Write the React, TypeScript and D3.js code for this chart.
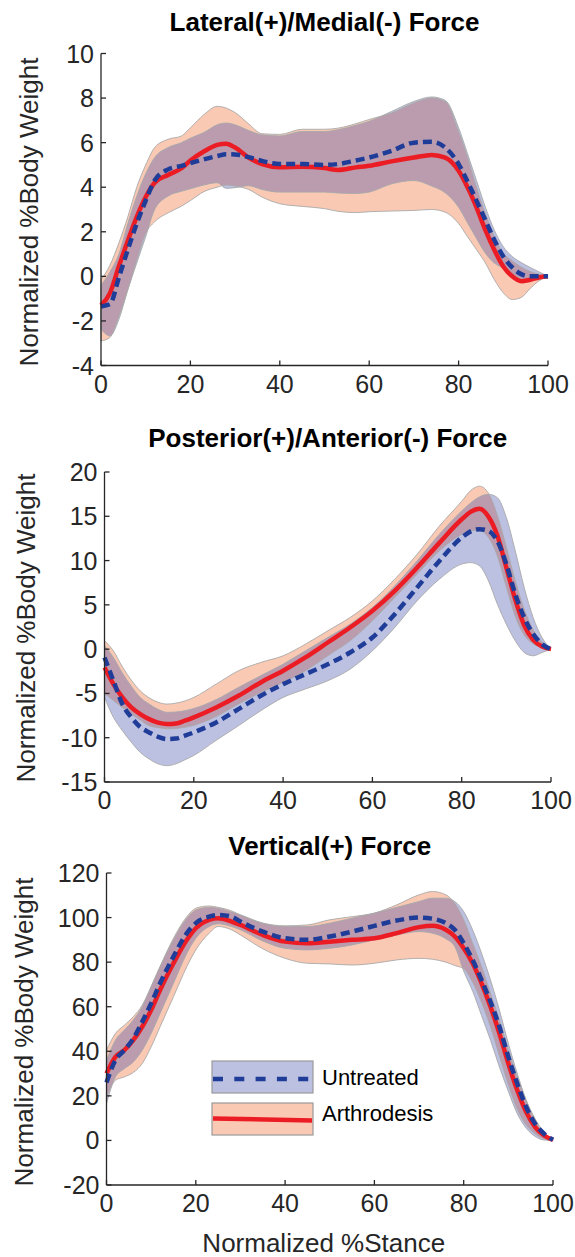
import React from 'react';
import * as d3 from 'd3';

// ---------- Chart 1: Lateral(+)/Medial(-) ----------
const latX = [0,2,4,6,8,10,12,15,18,20,23,26,28,30,33,36,40,45,50,53,57,60,65,70,74,77,80,82,84,86,88,90,92,94,96,98,100];
const latArthMean = [-1.3,-0.75,0.45,1.6,2.67,3.56,4.2,4.55,4.85,5.2,5.6,5.9,5.95,5.78,5.33,5.04,4.9,4.92,4.86,4.77,4.89,4.96,5.16,5.33,5.45,5.33,4.74,4.0,3.1,2.07,1.18,0.44,0.0,-0.22,-0.15,-0.05,0];
const latUntrMean = [-1.35,-1.25,-0.05,1.2,2.37,3.4,4.3,4.8,4.96,5.08,5.25,5.4,5.48,5.47,5.35,5.18,5.04,5.04,5.0,5.04,5.2,5.33,5.63,6.0,6.04,5.78,5.04,4.25,3.4,2.52,1.63,0.89,0.4,0.1,0.0,0,0];
const latArthUp = [-0.15,0.5,1.5,2.67,4.0,5.0,5.78,6.15,6.3,6.67,7.25,7.63,7.55,7.35,6.85,6.4,6.37,6.6,6.6,6.65,6.85,7.04,7.33,7.78,8.0,7.85,6.5,5.33,4.0,2.8,1.78,1.04,0.7,0.42,0.22,0.1,0];
const latArthLo = [-2.9,-2.74,-1.8,-0.6,0.74,1.93,2.45,2.85,3.15,3.4,3.8,4.0,4.1,4.05,3.9,3.56,3.26,3.14,3.04,2.92,2.86,2.9,2.93,2.96,3.0,2.88,2.37,1.78,1.2,0.6,-0.15,-0.74,-1.04,-0.95,-0.55,-0.2,0];
const latUntrUp = [-0.4,0.2,1.0,2.37,3.6,4.6,5.33,5.78,6.0,6.2,6.45,6.8,6.88,6.8,6.55,6.35,6.3,6.5,6.5,6.58,6.78,6.96,7.4,7.85,8.05,7.9,6.67,5.5,4.3,3.1,2.07,1.33,0.89,0.62,0.4,0.2,0];
const latUntrLo = [-2.37,-2.67,-1.93,-0.6,0.6,1.78,3.0,3.6,3.82,3.93,4.1,4.2,3.95,3.98,4.07,3.9,3.78,3.78,3.78,3.74,3.72,3.78,4.15,4.3,4.05,3.75,3.1,2.4,1.7,1.04,0.6,0.37,0.12,-0.12,-0.2,-0.1,0];
const latTicks = [-4,-2,0,2,4,6,8,10];

// ---------- Chart 2: Posterior(+)/Anterior(-) ----------
const apX = [0,2,4,6,8,10,12,14,16,18,20,25,30,35,40,45,50,55,60,65,70,75,80,82,84,86,88,90,92,94,96,98,100];
const apArthMean = [-2.07,-3.95,-5.45,-6.58,-7.33,-7.9,-8.3,-8.46,-8.4,-8.08,-7.7,-6.58,-5.26,-3.76,-2.44,-0.94,0.75,2.44,4.32,6.58,9.2,12.0,14.66,15.5,15.85,14.95,12.8,9.2,5.6,2.7,1.05,0.3,0];
const apUntrMean = [-0.94,-3.57,-6.2,-7.7,-8.8,-9.4,-9.9,-10.15,-10.1,-9.77,-9.4,-8.27,-6.77,-5.26,-3.95,-2.82,-1.7,-0.38,1.32,3.95,6.95,9.96,12.6,13.3,13.55,13.35,12.2,9.6,6.2,3.57,1.7,0.56,0];
const apArthUp = [0.94,-0.2,-2.0,-3.5,-4.7,-5.5,-6.0,-6.2,-6.1,-5.85,-5.45,-3.95,-2.44,-1.5,-0.75,0.56,2.07,3.57,5.45,7.9,10.7,13.9,16.7,17.9,18.4,17.6,15.1,11.5,7.7,4.5,2.2,0.8,0];
const apArthLo = [-5.0,-5.8,-6.6,-7.33,-8.0,-8.65,-8.85,-9.0,-8.95,-8.83,-8.6,-7.6,-6.2,-4.9,-3.76,-2.44,-0.75,0.94,3.2,5.83,8.46,11.1,12.97,13.4,13.4,12.6,10.5,7.0,3.7,1.6,0.6,0.2,0];
const apUntrUp = [0.38,-0.94,-2.7,-4.2,-5.45,-6.2,-6.8,-7.14,-7.1,-6.95,-6.7,-5.7,-4.32,-3.0,-1.7,-0.19,1.32,2.82,4.7,7.14,9.96,12.97,15.6,16.5,17.2,17.48,17.1,14.85,11.1,6.95,3.57,1.3,0];
const apUntrLo = [-5.45,-7.7,-9.2,-10.5,-11.65,-12.4,-12.95,-13.16,-12.95,-12.5,-12.0,-10.3,-8.65,-6.95,-5.45,-4.5,-3.57,-2.26,-0.19,2.44,5.45,7.9,9.6,9.77,9.4,7.7,5.07,2.82,0.94,-0.38,-0.75,-0.38,0];
const apTicks = [-15,-10,-5,0,5,10,15,20];

// ---------- Chart 3: Vertical(+) ----------
const vX = [0,2,4,6,8,10,12,15,18,20,23,25,28,30,35,40,45,50,55,60,65,70,73,76,78,80,82,84,86,88,90,92,94,96,98,100];
const vArthMean = [30,37.5,40.5,45,51,58.5,67.5,79.5,90,95.2,99,99.7,98.2,96.7,92.2,89.2,88.5,89.2,90,90.7,93,95.7,96.3,94.5,91.5,86.2,79.5,70.5,60,48,34.5,22.5,12.7,6,2.2,0.3];
const vUntrMean = [26,36,40.5,45.7,53.2,61.5,70.5,82.5,93,97.5,100.4,101.2,100.4,98.2,93.7,90.7,90,91.5,93.7,96.3,98.7,100,99.5,97.5,94.5,88.5,81,72,62.2,51,37.5,25.5,15,7.5,3,0.3];
const vArthUp = [40.5,48,51.7,55.5,60.7,69,78,90.7,100.4,104.2,105.2,104.6,103,101.2,97.5,96.3,96.7,99,100.4,102,105.7,110.2,111.7,110.2,106.4,99,88.5,78,66,54,40.5,28.5,18,9.7,3.7,0.5];
const vArthLo = [19.5,27,28.5,30.5,34.5,42,51,64.5,78,85.5,93,96,94.5,92.2,86,81.7,79.5,79.2,78.7,79.5,81,81.7,81.3,80,78.5,77,71,62,51,38,25,14,7,3,0.7,0];
const vUntrUp = [36,45,49.5,54,60,69,78,90,99.7,103.4,104.6,104.2,102.5,101.2,97.5,96,96,97.5,99.7,102,104.6,107.2,108.7,108.7,107.2,102.7,94.5,84,72,58.5,43.5,30,18,9,3,0.5];
const vUntrLo = [16.5,28.5,32.2,35.2,40.5,48,57,70.5,84,90.7,96,97.2,96,94.5,89.5,86.2,85.5,86.2,87.7,90,92.2,93.7,93,90.5,87,76,67,56,45,33,22,12,5.5,1.8,0.2,0];
const vTicks = [-20,0,20,40,60,80,100,120];

const xTicks = [0,20,40,60,80,100];
const seriesNames = ['Untreated', 'Arthrodesis'];

const COL = {
  arthBand: '#f9c9b3',
  untrBand: '#bcc0e1',
  overlap: '#bb9bae',
  edge: '#a9a9a9',
  red: '#ec1c24',
  blue: '#1f3d98',
  axis: '#262626',
};
const FONT = '"Liberation Sans", Arial, Helvetica, sans-serif';

type ChartProps = {
  id: string;
  title: string;
  x: number[];
  arthMean: number[]; untrMean: number[];
  arthUp: number[]; arthLo: number[];
  untrUp: number[]; untrLo: number[];
  ticks: number[];
  left: number; right: number; top: number; bottom: number;
  titleY: number;
  ylabX: number; ylabY: number;
  xlabel?: boolean;
  legend?: boolean;
};

function Chart(p: ChartProps) {
  const xs = d3.scaleLinear().domain([0, 100]).range([p.left, p.right]);
  const ys = d3.scaleLinear().domain([p.ticks[0], p.ticks[p.ticks.length - 1]]).range([p.bottom, p.top]);
  const idx = p.x.map((_, i) => i);
  const area = (lo: number[], up: number[]) =>
    d3.area<number>().x(i => xs(p.x[i])).y0(i => ys(lo[i])).y1(i => ys(up[i])).curve(d3.curveMonotoneX)(idx) || '';
  const line = (v: number[]) =>
    d3.line<number>().x(i => xs(p.x[i])).y(i => ys(v[i])).curve(d3.curveMonotoneX)(idx) || '';
  const aArea = area(p.arthLo, p.arthUp);
  const uArea = area(p.untrLo, p.untrUp);
  const cx = (p.left + p.right) / 2;

  const lgX = p.left + 105.5;
  const lgY = p.top + 188;
  const lgW = 101, lgH = 32, lgGap = 10;

  return (
    <g>
      <defs>
        <clipPath id={`clip-${p.id}`}>
          <path d={uArea} />
        </clipPath>
      </defs>
      <text x={cx} y={p.titleY} textAnchor="middle" fontFamily={FONT} fontWeight="bold" fontSize={26} fill="#000">{p.title}</text>
      <path d={aArea} fill={COL.arthBand} stroke="none" />
      <path d={uArea} fill={COL.untrBand} stroke="none" />
      <path d={aArea} fill={COL.overlap} stroke="none" clipPath={`url(#clip-${p.id})`} />
      <path d={aArea} fill="none" stroke={COL.edge} strokeWidth={0.9} />
      <path d={uArea} fill="none" stroke={COL.edge} strokeWidth={0.9} />
      <path d={line(p.arthMean)} fill="none" stroke={COL.red} strokeWidth={4.5} strokeLinejoin="round" />
      <path d={line(p.untrMean)} fill="none" stroke={COL.blue} strokeWidth={4.5} strokeDasharray="9 5" />
      <line x1={p.left} x2={p.left} y1={ys(p.ticks[p.ticks.length - 1])} y2={p.bottom} stroke={COL.axis} strokeWidth={1.3} />
      <line x1={p.left} x2={p.right} y1={p.bottom} y2={p.bottom} stroke={COL.axis} strokeWidth={1.3} />
      {p.ticks.map(t => (
        <g key={`y${t}`}>
          <line x1={p.left} x2={p.left + 5} y1={ys(t)} y2={ys(t)} stroke={COL.axis} strokeWidth={1.3} />
          <text x={p.left - 7} y={ys(t)} dy="0.36em" textAnchor="end" fontFamily={FONT} fontSize={25} fill={COL.axis}>{t}</text>
        </g>
      ))}
      {xTicks.map(t => (
        <g key={`x${t}`}>
          <line x1={xs(t)} x2={xs(t)} y1={p.bottom} y2={p.bottom - 5} stroke={COL.axis} strokeWidth={1.3} />
          <text x={xs(t)} y={p.bottom + 27} textAnchor="middle" fontFamily={FONT} fontSize={25} fill={COL.axis}>{t}</text>
        </g>
      ))}
      <text transform={`translate(${p.ylabX},${p.ylabY}) rotate(-90)`} textAnchor="middle" fontFamily={FONT} fontSize={26} fill={COL.axis}>Normalized %Body Weight</text>
      {p.xlabel && (
        <text x={cx - 6} y={p.bottom + 67} textAnchor="middle" fontFamily={FONT} fontSize={26} fill={COL.axis}>Normalized %Stance</text>
      )}
      {p.legend && (
        <g>
          <rect x={lgX} y={lgY} width={lgW} height={lgH} fill={COL.untrBand} stroke="#9a9a9a" strokeWidth={1.2} />
          <line x1={lgX + 1} x2={lgX + lgW - 4} y1={lgY + lgH / 2 + 2} y2={lgY + lgH / 2 + 2} stroke={COL.blue} strokeWidth={4.5} strokeDasharray="10 11.3" />
          <text x={lgX + lgW + 9} y={lgY + lgH / 2 + 8} fontFamily={FONT} fontSize={22} fill="#000">{seriesNames[0]}</text>
          <rect x={lgX} y={lgY + lgH + lgGap} width={lgW} height={lgH} fill={COL.arthBand} stroke="#9a9a9a" strokeWidth={1.2} />
          <line x1={lgX + 1} x2={lgX + lgW - 1} y1={lgY + lgH + lgGap + lgH / 2 - 0.5} y2={lgY + lgH + lgGap + lgH / 2 + 1.5} stroke={COL.red} strokeWidth={4.5} />
          <text x={lgX + lgW + 9} y={lgY + lgH + lgGap + lgH / 2 + 2} fontFamily={FONT} fontSize={22} fill="#000">{seriesNames[1]}</text>
        </g>
      )}
    </g>
  );
}

export default function App() {
  return (
    <svg width={575} height={1257} style={{ position: 'absolute', left: 0, top: 0, background: '#fff' }}>
      <rect x={0} y={0} width={575} height={1257} fill="#fff" />
      <Chart id="lat" title="Lateral(+)/Medial(-) Force" x={latX}
        arthMean={latArthMean} untrMean={latUntrMean} arthUp={latArthUp} arthLo={latArthLo}
        untrUp={latUntrUp} untrLo={latUntrLo} ticks={latTicks}
        left={101} right={548} top={53.5} bottom={365.5} titleY={31} ylabX={38} ylabY={212} />
      <Chart id="ap" title="Posterior(+)/Anterior(-) Force" x={apX}
        arthMean={apArthMean} untrMean={apUntrMean} arthUp={apArthUp} arthLo={apArthLo}
        untrUp={apUntrUp} untrLo={apUntrLo} ticks={apTicks}
        left={104.5} right={551} top={472} bottom={782} titleY={447} ylabX={35} ylabY={628} />
      <Chart id="v" title="Vertical(+) Force" x={vX}
        arthMean={vArthMean} untrMean={vUntrMean} arthUp={vArthUp} arthLo={vArthLo}
        untrUp={vUntrUp} untrLo={vUntrLo} ticks={vTicks}
        left={106.5} right={553} top={873} bottom={1185} titleY={855} ylabX={33} ylabY={1032} xlabel legend />
    </svg>
  );
}
